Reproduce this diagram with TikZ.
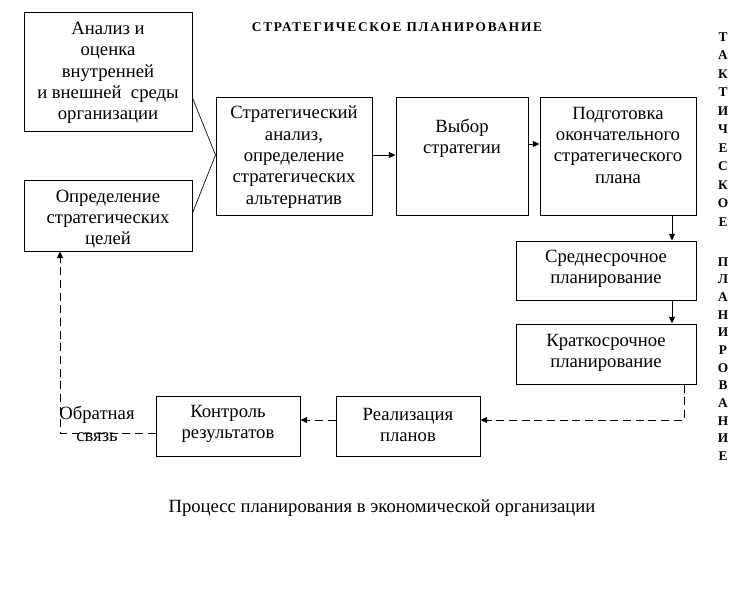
\documentclass[tikz,border=0pt]{standalone}
\usepackage{fontspec}
\setmainfont{Liberation Serif}
\usetikzlibrary{arrows.meta,fit}
\tikzset{
  box/.style={draw, line width=0.75pt, inner sep=0pt},
  txt/.style={align=center, inner sep=0pt, font=\fontsize{14}{16}\selectfont},
  arr/.style={line width=0.75pt, -{Triangle[length=5pt,width=4.5pt]}},
  darr/.style={line width=0.75pt, dash pattern=on 6pt off 3.5pt, -{Triangle[length=5pt,width=4.5pt]}},
  ln/.style={line width=0.5pt},
  vlet/.style={inner sep=0pt, font=\fontsize{10}{11}\selectfont\bfseries},
}
\begin{document}
\begin{tikzpicture}[x=0.75pt,y=-0.75pt]
\useasboundingbox (0,0) rectangle (745,589);
% boxes
\node[box, fit={(24,12) (192,131)}] (A) {};
\node[box, fit={(24,180) (192,251)}] (B) {};
\node[box, fit={(216,97) (372,215)}] (C) {};
\node[box, fit={(396,97) (528,215)}] (D) {};
\node[box, fit={(540,97) (696,215)}] (E) {};
\node[box, fit={(516,241) (696,300)}] (F) {};
\node[box, fit={(516,324) (696,384)}] (G) {};
\node[box, fit={(336,396) (480,456)}] (H) {};
\node[box, fit={(156,396) (300,456)}] (I) {};
% texts
\node[txt] (tA) at (108,73) {Анализ и\\оценка\\внутренней\\и внешней~ среды\\организации};
\node[txt] (tB) at (108,219) {Определение\\стратегических\\целей};
\node[txt] (tC) at (294,157) {Стратегический\\анализ,\\определение\\стратегических\\альтернатив};
\node[txt] (tD) at (462,138) {Выбор\\стратегии};
\node[txt] (tE) at (618,145) {Подготовка\\окончательного\\стратегического\\плана};
\node[txt] (tF) at (606,269) {Среднесрочное\\планирование};
\node[txt] (tG) at (606,353) {Краткосрочное\\планирование};
\node[txt] (tH) at (408,425) {Реализация\\планов};
\node[txt] (tI) at (228,424) {Контроль\\результатов};
\node[txt, font=\fontsize{14}{16.5}\selectfont] (fb) at (97,424) {Обратная\\связь};
% titles
\node[inner sep=0pt, font=\fontsize{10}{11}\selectfont\bfseries\addfontfeature{LetterSpace=13}] (title) at (397,27) {СТРАТЕГИЧЕСКОЕ ПЛАНИРОВАНИЕ};
\node[txt] (cap) at (382,508) {Процесс планирования в экономической организации};
\foreach \c [count=\i from 0] in {Т,А,К,Т,И,Ч,Е,С,К,О,Е}
  \node[vlet] (va\i) at (723,37+18.5*\i) {\c};
\foreach \c [count=\i from 0] in {П,Л,А,Н,И,Р,О,В,А,Н,И,Е}
  \node[vlet] (vb\i) at (723,262+17.64*\i) {\c};
% helper coordinates
\coordinate (x672) at (672,0);
\coordinate (x684) at (684,0);
\coordinate (x60) at (60,0);
\coordinate (y420) at (0,420);
\coordinate (y433) at (0,433);
\coordinate (y98) at (0,98);
\coordinate (y213) at (0,213);
\coordinate (y155) at (0,155);
\coordinate (y144) at (0,144);
% connectors
\draw[ln] (A.east |- y98) -- (C.west |- y155) coordinate (cj);
\draw[ln] (B.east |- y213) -- (cj);
\draw[arr] (C.east |- y155) -- (D.west |- y155);
\draw[arr] (D.east |- y144) -- (E.west |- y144);
\draw[arr] (E.south -| x672) -- (F.north -| x672);
\draw[arr] (F.south -| x672) -- (G.north -| x672);
\draw[darr] (G.south -| x684) |- (H.east |- y420);
\draw[darr] (H.west |- y420) -- (I.east |- y420);
\draw[darr] (I.west |- y433) -| (B.south -| x60);
\end{tikzpicture}
\end{document}
